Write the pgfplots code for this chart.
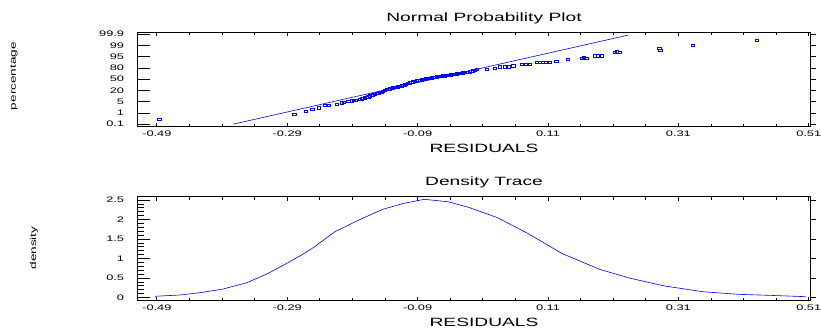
\documentclass[border=0pt]{standalone}
\usepackage{fontspec}
\setmainfont{Liberation Sans}[FakeStretch=1.6]
\usepackage{pgfplots}
\usepackage{pgfplotstable}
\pgfplotsset{compat=1.18}

\pgfplotstableread{
x y
-0.4865 0.444
-0.2794 0.889
-0.2615 1.156
-0.2518 1.307
-0.2411 1.449
-0.2323 1.662
-0.2262 1.689
-0.2144 1.778
-0.2067 1.893
-0.2032 1.956
-0.1966 2.018
-0.1914 2.071
-0.1880 2.100
-0.1848 2.133
-0.1787 2.222
-0.1760 2.260
-0.1736 2.311
-0.1710 2.350
-0.1684 2.400
-0.1655 2.450
-0.1633 2.516
-0.1605 2.560
-0.1583 2.604
-0.1555 2.670
-0.1530 2.729
-0.1505 2.770
-0.1480 2.818
-0.1455 2.860
-0.1434 2.898
-0.1405 3.000
-0.1377 3.084
-0.1350 3.120
-0.1326 3.156
-0.1300 3.190
-0.1280 3.227
-0.1255 3.260
-0.1234 3.289
-0.1200 3.330
-0.1173 3.378
-0.1145 3.420
-0.1122 3.467
-0.1100 3.510
-0.1081 3.556
-0.1050 3.610
-0.1020 3.671
-0.0995 3.715
-0.0969 3.760
-0.0940 3.800
-0.0917 3.840
-0.0890 3.875
-0.0866 3.911
-0.0835 3.945
-0.0805 3.982
-0.0775 4.020
-0.0744 4.053
-0.0712 4.090
-0.0682 4.124
-0.0645 4.165
-0.0610 4.204
-0.0575 4.230
-0.0544 4.258
-0.0515 4.285
-0.0483 4.311
-0.0450 4.340
-0.0421 4.364
-0.0390 4.390
-0.0355 4.418
-0.0325 4.445
-0.0299 4.471
-0.0268 4.500
-0.0237 4.533
-0.0205 4.560
-0.0176 4.587
-0.0140 4.620
-0.0099 4.649
-0.0075 4.700
-0.0053 4.756
-0.0025 4.810
0.0003 4.862
0.0157 4.889
0.0284 4.951
0.0361 5.093
0.0437 5.093
0.0499 5.111
0.0565 5.182
0.0694 5.307
0.0760 5.307
0.0821 5.307
0.0924 5.484
0.0974 5.484
0.1020 5.484
0.1066 5.484
0.1128 5.484
0.1230 5.600
0.1399 5.751
0.1614 5.840
0.1649 5.884
0.1690 5.840
0.1818 6.071
0.1864 6.071
0.1921 6.071
0.2125 6.373
0.2155 6.444
0.2201 6.373
0.2807 6.756
0.2822 6.578
0.3321 7.022
0.4307 7.467
}\probdata

\pgfplotstableread{
x y
-0.4931 0.031
-0.4547 0.064
-0.4240 0.123
-0.3903 0.210
-0.3520 0.379
-0.3213 0.603
-0.2968 0.821
-0.2707 1.064
-0.2492 1.287
-0.2170 1.687
-0.1802 1.987
-0.1434 2.262
-0.1112 2.415
-0.0797 2.518
-0.0428 2.454
-0.0115 2.310
0.0315 2.054
0.0790 1.644
0.1312 1.131
0.1893 0.721
0.2370 0.490
0.2891 0.295
0.3474 0.149
0.4011 0.082
0.4487 0.056
0.5052 0.021
}\densdata

\pgfplotsset{
  panel/.style={scale only axis, width=673.4pt, anchor=south west,
    xmin=-0.52, xmax=0.513,
    axis line style={line width=1pt},
    tick style={black, line width=0.8pt},
    tick align=inside,
    ticklabel style={font=\fontsize{8}{9}\selectfont},
    /pgf/number format/assume math mode=true},
  xpanel/.style={panel, ytick=\empty,
    xtick={-0.49,-0.29,-0.09,0.11,0.31,0.51},
    xticklabels={-0.49,-0.29,-0.09,0.11,0.31,0.51},
    minor xtick={-0.44,-0.39,-0.34,-0.24,-0.19,-0.14,-0.04,0.01,0.06,0.16,0.21,0.26,0.36,0.41,0.46},
    major tick length=4pt, minor tick length=3pt,
    xticklabel pos=lower,
    xticklabel style={inner sep=0pt, yshift=-4pt}},
  ypanel/.style={panel, xtick=\empty, ytick pos=left,
    major tick length=13pt, minor tick length=7pt,
    yticklabel style={inner sep=0pt, xshift=-13pt}},
  rpanel/.style={panel, xtick=\empty, ytick pos=right, tick align=outside,
    major tick length=5pt, yticklabels={}},
}

\begin{document}
\begin{tikzpicture}
\path[use as bounding box] (0pt,0pt) rectangle (821pt,329pt);

% ---------- top panel ----------
\begin{axis}[xpanel, at={(137.3pt,202pt)}, height=94.5pt, ymin=-0.25, ymax=8.15]
  \addplot[blue, line width=0.6pt] coordinates {(-0.373,0) (0.2324,7.91)};
  \addplot[only marks, mark=square, mark size=1.4pt, blue,
    mark options={line width=0.6pt, xscale=1.2, yscale=0.85}] table {\probdata};
\end{axis}
\begin{axis}[ypanel, at={(137.3pt,202pt)}, height=94.5pt, ymin=-0.25, ymax=8.15,
    ytick={0,1,2,3,4,5,6,7,8},
    yticklabels={0.1,1,5,20,50,80,95,99,99.9}]
\end{axis}
\begin{axis}[rpanel, at={(137.3pt,202pt)}, height=94.5pt, ymin=-0.25, ymax=8.15,
    ytick={0,1,2,3,4,5,6,7,8}]
\end{axis}

% ---------- bottom panel ----------
\begin{axis}[xpanel, at={(137.3pt,28.3pt)}, height=104pt, ymin=-0.082, ymax=2.585]
  \addplot[blue, line width=0.6pt] table {\densdata};
\end{axis}
\begin{axis}[ypanel, at={(137.3pt,28.3pt)}, height=104pt, ymin=-0.082, ymax=2.585,
    ytick={0,0.5,1,1.5,2,2.5},
    yticklabels={0,0.5,1,1.5,2,2.5},
    minor y tick num=4]
\end{axis}
\begin{axis}[rpanel, at={(137.3pt,28.3pt)}, height=104pt, ymin=-0.082, ymax=2.585,
    ytick={0,0.5,1,1.5,2,2.5}]
\end{axis}

% ---------- texts ----------
\node[font=\fontsize{12}{14}\selectfont, anchor=base] at (484pt,307.7pt) {Normal Probability Plot};
\node[font=\fontsize{12}{14}\selectfont, anchor=base] at (484pt,176.8pt) {RESIDUALS};
\node[font=\fontsize{12}{14}\selectfont, anchor=base] at (484pt,143.7pt) {Density Trace};
\node[font=\fontsize{12}{14}\selectfont, anchor=base] at (484pt,2.8pt) {RESIDUALS};
\node[font=\fontsize{8.5}{9}\selectfont, rotate=90] at (14pt,253pt) {percentage};
\node[font=\fontsize{8.5}{9}\selectfont, rotate=90] at (34pt,81pt) {density};
\end{tikzpicture}
\end{document}
